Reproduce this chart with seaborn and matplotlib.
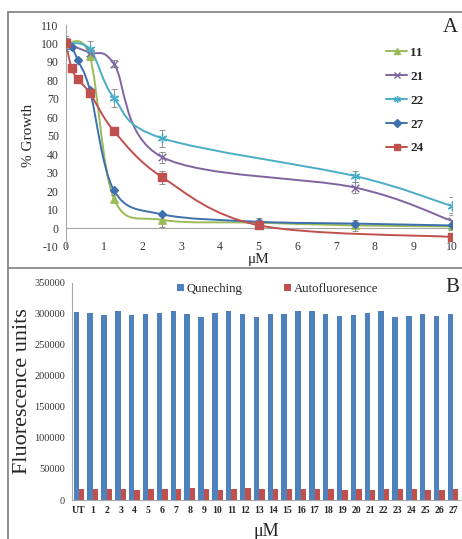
import matplotlib
matplotlib.use("Agg")
import matplotlib.pyplot as plt
import numpy as np
import pandas as pd
import seaborn as sns
from matplotlib.lines import Line2D
from matplotlib.patches import PathPatch
from matplotlib.path import Path

# ---- Panel A: % growth vs concentration ----
series_names = ["11", "21", "22", "27", "24"]

conc_11 = [0, 0.625, 1.25, 2.5, 5, 7.5, 10]
growth_11 = [100, 93, 16, 4.5, 3, 1.5, 1]
err_11 = [3, 2, 2, 4, 1, 3, 2]

conc_21 = [0, 0.625, 1.25, 2.5, 7.5, 10]
growth_21 = [100, 95, 89, 38.5, 22, 4]
err_21 = [3, 2, 2, 3, 3, 4]

conc_22 = [0, 0.625, 1.25, 2.5, 7.5, 10]
growth_22 = [100, 97, 70.5, 48.7, 28.2, 12]
err_22 = [3, 4.5, 5, 4.5, 3, 5]

conc_27 = [0, 0.156, 0.3125, 0.625, 1.25, 2.5, 5, 7.5, 10]
growth_27 = [100, 98, 91, 75, 20.5, 7.5, 3.5, 2.5, 1.5]
err_27 = [3, 1, 1, 1, 1, 1, 2, 1, 1]

conc_24 = [0, 0.156, 0.3125, 0.625, 1.25, 2.5, 5, 10]
growth_24 = [100, 86.5, 80.6, 73.2, 52.6, 27.6, 1.6, -4.7]
err_24 = [4, 1, 1, 1, 1, 3.5, 1, 1]

# ---- Panel B: fluorescence per compound ----
compounds = ["UT"] + [str(i) for i in range(1, 28)]
quenching = [303000, 301000, 298500, 304000, 298500, 299500, 302000, 304000,
             300000, 295500, 301000, 304000, 299000, 295500, 300000, 299000,
             304500, 305000, 299000, 296500, 298000, 302000, 305000, 295500,
             297000, 299000, 296500, 299000]
autofluor = [18000, 17000, 17000, 17000, 16000, 17000, 17000, 17000,
             19000, 17000, 16000, 17000, 19000, 17000, 17500, 17500,
             17500, 17000, 17000, 16000, 17000, 16500, 17000, 18000,
             18000, 16000, 16500, 18000]

W, H = 462, 539

sns.set_style("white")
plt.rcParams["font.family"] = ["Liberation Serif", "DejaVu Serif"]
plt.rcParams["axes.unicode_minus"] = False


def fx(px):
    return px / W


def fy(py):
    return 1 - py / H


def smooth_path(x, y):
    # Excel-style smoothed line: cubic Bezier through every point
    pts = np.column_stack([x, y]).astype(float)
    n = len(pts)
    verts = [pts[0]]
    codes = [Path.MOVETO]
    for i in range(n - 1):
        p0 = pts[i - 1] if i > 0 else pts[i]
        p1 = pts[i]
        p2 = pts[i + 1]
        p3 = pts[i + 2] if i + 2 < n else pts[i + 1]
        verts += [p1 + (p2 - p0) / 6, p2 - (p3 - p1) / 6, p2]
        codes += [Path.CURVE4] * 3
    return Path(verts, codes)


fig = plt.figure(figsize=(W / 100, H / 100), dpi=100)

# ---------- Panel A ----------
axA = fig.add_axes([fx(65.7), fy(246.7), fx(451.7) - fx(65.7), fy(25) - fy(246.7)])

colors = {"11": "#9BBB59", "21": "#8064A2", "22": "#4BACC6",
          "27": "#3E70B0", "24": "#C0504D"}
markers = {"11": "^", "21": "x", "22": (6, 2, 0), "27": "D", "24": "s"}
msizes = {"11": 28, "21": 30, "22": 40, "27": 16, "24": 36}

data_a = {
    "11": (conc_11, growth_11, err_11),
    "21": (conc_21, growth_21, err_21),
    "22": (conc_22, growth_22, err_22),
    "27": (conc_27, growth_27, err_27),
    "24": (conc_24, growth_24, err_24),
}

for name in series_names:
    xs, ys, es = data_a[name]
    c = colors[name]
    axA.add_patch(PathPatch(smooth_path(xs, ys), fill=False, edgecolor=c,
                            lw=1.4, zorder=2))
    axA.errorbar(xs, ys, yerr=es, fmt="none", ecolor="#7f7f7f", elinewidth=0.6,
                 capsize=2, capthick=0.6, zorder=3)
    df = pd.DataFrame({"x": xs, "y": ys})
    sns.scatterplot(data=df, x="x", y="y", ax=axA, marker=markers[name],
                    s=msizes[name], color=c, edgecolor=c, linewidth=1.0,
                    zorder=4, legend=False)

axA.set_xlim(0, 10)
axA.set_ylim(-10, 110)
axA.set_xticks(range(0, 11))
axA.set_yticks(range(-10, 111, 10))
axA.axhline(0, color="#a6a6a6", lw=0.8, zorder=1)
for s in ["top", "right", "bottom"]:
    axA.spines[s].set_visible(False)
axA.spines["left"].set_color("#a6a6a6")
axA.spines["left"].set_linewidth(0.8)
axA.tick_params(axis="y", length=3, color="#a6a6a6", labelsize=8.5,
                labelcolor="#333333", pad=2)
axA.tick_params(axis="x", length=0, labelsize=8.5, labelcolor="#333333", pad=-4)
axA.set_xlabel("μM", fontsize=11, labelpad=0)
axA.set_ylabel("% Growth", fontsize=11, labelpad=4)

handles = [Line2D([0], [0], color=colors[n], lw=1.4, marker=markers[n],
                  markersize=5 if n != "27" else 4, markeredgecolor=colors[n])
           for n in series_names]
axA.legend(handles, series_names, loc="upper left", bbox_to_anchor=(0.80, 0.955),
           frameon=False, handlelength=1.6, handletextpad=0.2, labelspacing=0.88,
           prop={"weight": "bold", "size": 9.5})

fig.text(fx(450), fy(27), "A", fontsize=15, ha="center", va="center")

# ---------- Panel B ----------
axB = fig.add_axes([fx(72.1), fy(500), fx(460) - fx(72.1), fy(282.7) - fy(500)])

df_b = pd.DataFrame({"compound": compounds, "Quneching": quenching,
                     "Autofluoresence": autofluor})
df_long = df_b.melt(id_vars="compound", var_name="series", value_name="units")
sns.barplot(data=df_long, x="compound", y="units", hue="series",
            palette=["#4F81BD", "#C0504D"], width=0.78, gap=0, ax=axB,
            errorbar=None, saturation=1, edgecolor="none", linewidth=0)

axB.set_ylim(0, 350000)
axB.set_xlim(-0.5, len(compounds) - 0.5)
axB.set_yticks(range(0, 350001, 50000))
for s in ["top", "right"]:
    axB.spines[s].set_visible(False)
for s in ["left", "bottom"]:
    axB.spines[s].set_color("#a6a6a6")
    axB.spines[s].set_linewidth(0.8)
axB.tick_params(axis="y", length=3, color="#a6a6a6", labelsize=7.5,
                labelcolor="#333333", pad=2)
axB.tick_params(axis="x", length=0, labelsize=7, pad=4)
for lbl in axB.get_xticklabels():
    lbl.set_fontweight("bold")
axB.set_xticks(np.arange(-0.5, len(compounds), 1), minor=True)
axB.tick_params(axis="x", which="minor", length=3, color="#a6a6a6")
axB.set_xlabel("μM", fontsize=13, labelpad=6)
axB.set_ylabel("Fluorescence units", fontsize=16, labelpad=2)

leg = axB.legend(loc="upper center", bbox_to_anchor=(0.53, 1.05), ncol=2,
                 frameon=False, handlelength=0.5, handleheight=0.5,
                 handletextpad=0.2, columnspacing=3.3, prop={"size": 9.2})

fig.text(fx(452), fy(287), "B", fontsize=15, ha="center", va="center")

# ---------- panel frames ----------
frame = "#7f7f7f"
fig.add_artist(Line2D([fx(8), fx(8)], [fy(12), fy(539)], color=frame, lw=1.2))
fig.add_artist(Line2D([fx(8), fx(462)], [fy(12), fy(12)], color=frame, lw=1.2))
fig.add_artist(Line2D([fx(8), fx(462)], [fy(268), fy(268)], color=frame, lw=1.2))

fig.savefig("out.png", dpi=100)
